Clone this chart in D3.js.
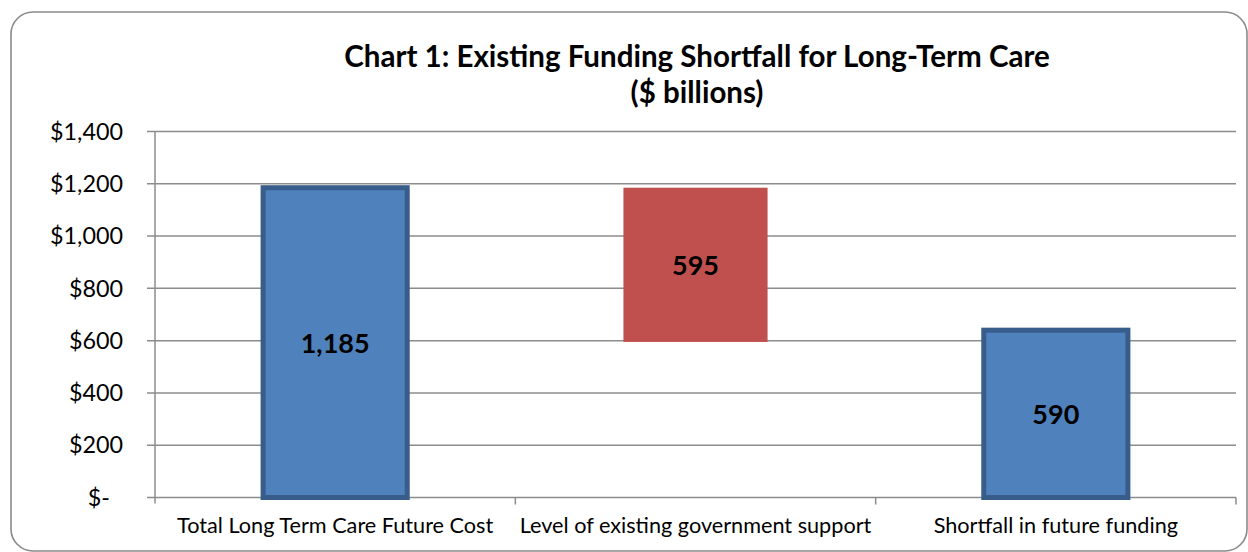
<!DOCTYPE html>
<html><head><meta charset="utf-8">
<script src="https://cdn.jsdelivr.net/npm/d3@7"></script>
<style>html,body{margin:0;padding:0;background:#fff;}svg{display:block;}</style>
</head><body>
<script>
// ---- data ----
const categories = ["Total Long Term Care Future Cost", "Level of existing government support", "Shortfall in future funding"];
const barBase = [0, 595, 0];          // bottom of each floating bar ($ billions)
const barTop = [1185, 1185, 640];     // top of each bar as drawn
const barLabels = ["1,185", "595", "590"];
const barKinds = ["total", "change", "total"];
const yTicks = [0, 200, 400, 600, 800, 1000, 1200, 1400];
const yTickLabels = ["$-", "$200", "$400", "$600", "$800", "$1,000", "$1,200", "$1,400"];
const titleLines = ["Chart 1: Existing Funding Shortfall for Long-Term Care", "($ billions)"];

const W = 1248, H = 552;
const FONT = "Lato, 'Open Sans', sans-serif";
const svg = d3.select("body").append("svg").attr("width", W).attr("height", H);

// outer rounded frame
svg.append("rect").attr("x", 11).attr("y", 12).attr("width", 1236).attr("height", 539)
  .attr("rx", 22).attr("fill", "#fff").attr("stroke", "#8a8a8a").attr("stroke-width", 1.6);

const plot = {left: 155, right: 1236, top: 131.5, bottom: 497.5};
const y = d3.scaleLinear().domain([0, 1400]).range([plot.bottom, plot.top]);
const x = d3.scaleBand().domain(categories).range([plot.left, plot.right]).padding(0);
const xb = d3.scaleBand().domain(categories).range([plot.left, plot.right]).paddingInner(0.6).paddingOuter(0.3);

// fit helper
function fit(sel, target) {
  const w = sel.node().getComputedTextLength();
  const fs = parseFloat(sel.attr("font-size"));
  return fs * target / w;
}

// gridlines
svg.append("g").selectAll("line").data(yTicks).join("line")
  .attr("x1", plot.left - 8).attr("x2", plot.right)
  .attr("y1", d => y(d)).attr("y2", d => y(d))
  .attr("stroke", "#8c8c8c").attr("stroke-width", 1.5);

// y axis line
svg.append("line").attr("x1", plot.left).attr("x2", plot.left)
  .attr("y1", plot.top).attr("y2", plot.bottom + 6)
  .attr("stroke", "#8c8c8c").attr("stroke-width", 1.5);

// x axis category ticks
const bounds = categories.map(c => x(c)).concat([plot.right]);
svg.append("g").selectAll("line").data(bounds.slice(1)).join("line")
  .attr("x1", d => d).attr("x2", d => d)
  .attr("y1", plot.bottom).attr("y2", plot.bottom + 7)
  .attr("stroke", "#8c8c8c").attr("stroke-width", 1.5);

// bars
const bars = categories.map((c, i) => ({c, base: barBase[i], top: barTop[i], label: barLabels[i], kind: barKinds[i]}));
svg.append("g").selectAll("rect").data(bars).join("rect")
  .attr("x", d => xb(d.c)).attr("width", xb.bandwidth())
  .attr("y", d => y(d.top)).attr("height", d => y(d.base) - y(d.top))
  .attr("fill", d => d.kind === "total" ? "#4F81BD" : "#C0504D")
  .attr("stroke", d => d.kind === "total" ? "#385D8A" : "none")
  .attr("stroke-width", 5);

// data labels
const dl = svg.append("g").selectAll("text").data(bars).join("text")
  .attr("x", d => xb(d.c) + xb.bandwidth() / 2)
  .attr("y", d => (y(d.base) + y(d.top)) / 2)
  .attr("text-anchor", "middle").attr("dominant-baseline", "central")
  .attr("font-family", FONT).attr("font-weight", "bold").attr("font-size", 28).attr("fill", "#000")
  .text(d => d.label);
const dlSize = fit(dl.filter((d, i) => i === 0), 69);
dl.attr("font-size", dlSize);

// y tick labels
const yl = svg.append("g").selectAll("text").data(yTicks).join("text")
  .attr("x", 123).attr("y", d => y(d)).attr("dy", "0.35em")
  .attr("text-anchor", "end").attr("font-family", FONT).attr("font-size", 24).attr("fill", "#000")
  .text((d, i) => yTickLabels[i]);
const ySize = fit(yl.filter((d, i) => i === 7), 73);
yl.attr("font-size", ySize);
yl.filter((d, i) => i === 0).attr("x", 110);

// x category labels
const xl = svg.append("g").selectAll("text").data(categories).join("text")
  .attr("x", d => x(d) + x.bandwidth() / 2).attr("y", 533)
  .attr("text-anchor", "middle").attr("font-family", FONT).attr("font-size", 22).attr("fill", "#000")
  .text(d => d);
const xSize = fit(xl.filter((d, i) => i === 1), 352);
xl.attr("font-size", xSize);

// title
const t = svg.append("g").selectAll("text").data(titleLines).join("text")
  .attr("x", 697).attr("y", (d, i) => i === 0 ? 67 : 103)
  .attr("text-anchor", "middle").attr("font-family", FONT).attr("font-weight", "bold")
  .attr("font-size", 26).attr("fill", "#000").text(d => d);
const tSize = fit(t.filter((d, i) => i === 0), 706);
t.attr("font-size", tSize);
</script>
</body></html>
